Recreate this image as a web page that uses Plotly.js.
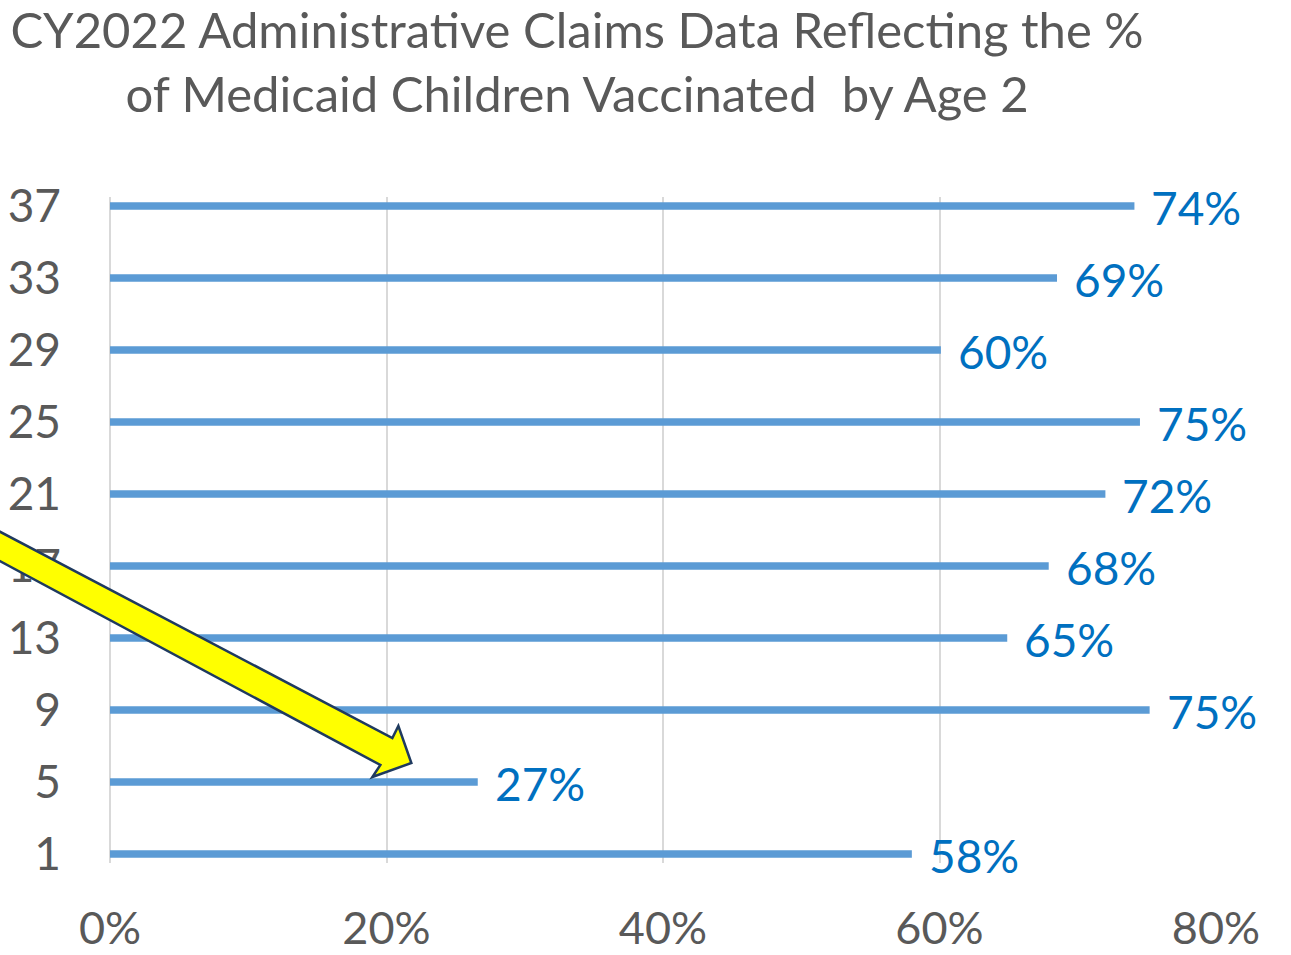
<!DOCTYPE html>
<html>
<head>
<meta charset="utf-8">
<script src="https://cdn.plot.ly/plotly-3.0.1.min.js"></script>
<style>html,body{margin:0;padding:0;background:#fff;}#chart{width:1291px;height:955px;}</style>
</head>
<body>
<div id="chart"></div>
<script>
// Data
var categories = ['1', '5', '9', '13', '17', '21', '25', '29', '33', '37'];
var values = [0.580, 0.266, 0.752, 0.649, 0.679, 0.720, 0.745, 0.601, 0.685, 0.741];
var valueLabels = ['58%', '27%', '75%', '65%', '68%', '72%', '75%', '60%', '69%', '74%'];
var xTickVals = [0, 0.2, 0.4, 0.6, 0.8];
var xTickText = ['0%', '20%', '40%', '60%', '80%'];

var FONT = 'Lato, "Open Sans", sans-serif';
var W = 1291, H = 955;
var L = 109.5, R = 1216, T = 197, B = 863;

function pp(px, py) {
  return ((px - L) / (R - L)).toFixed(5) + ',' + ((B - py) / (B - T)).toFixed(5);
}
var arrowPts = [[-40, 511], [392, 738], [398, 726], [411, 763], [372, 777], [380, 765], [-40, 540]];
var arrowPath = 'M' + arrowPts.map(function (p) { return pp(p[0], p[1]); }).join(' L') + ' Z';

var trace = {
  type: 'bar',
  orientation: 'h',
  y: categories,
  x: values,
  width: 0.105,
  marker: { color: '#5B9BD5', line: { width: 0 } },
  hoverinfo: 'skip'
};

// annotations on a category axis: use the category index as position
var annotations = categories.map(function (c, i) {
  return {
    x: values[i], y: i, xref: 'x', yref: 'y',
    text: valueLabels[i], showarrow: false,
    xanchor: 'left', yanchor: 'middle', xshift: 15, yshift: -1,
    font: { family: FONT, size: 46, color: '#0070C0' }
  };
});

var layout = {
  width: W, height: H,
  paper_bgcolor: '#ffffff', plot_bgcolor: '#ffffff',
  margin: { l: L, r: W - R, t: T, b: H - B, pad: 0 },
  showlegend: false,
  title: {
    text: 'CY2022 Administrative Claims Data Reflecting the %<br>of Medicaid Children Vaccinated  by Age 2',
    font: { family: FONT, size: 49, color: '#595959' },
    x: 577 / W, xref: 'container', xanchor: 'center',
    y: 1 - 48 / H, yref: 'container', yanchor: 'top'
  },
  xaxis: {
    range: [0, 0.8],
    tickvals: xTickVals, ticktext: xTickText,
    showgrid: true, gridcolor: '#D9D9D9', gridwidth: 2,
    zeroline: true, zerolinecolor: '#D9D9D9', zerolinewidth: 2,
    showline: false, ticks: '',
    tickfont: { family: FONT, size: 45, color: '#595959' },
    ticklabelstandoff: 35,
    fixedrange: true
  },
  yaxis: {
    type: 'category',
    categoryorder: 'array', categoryarray: categories,
    range: [-0.125, 9.125],
    showgrid: false, zeroline: false, showline: false, ticks: '',
    tickfont: { family: FONT, size: 46, color: '#595959' },
    ticklabelstandoff: 48,
    fixedrange: true
  },
  annotations: annotations,
  shapes: [{
    type: 'path', xref: 'paper', yref: 'paper',
    path: arrowPath,
    fillcolor: '#FFFF00',
    line: { color: '#1F3A5F', width: 2.5 },
    layer: 'above'
  }]
};

Plotly.newPlot('chart', [trace], layout, { displayModeBar: false, staticPlot: true });
</script>
</body>
</html>
